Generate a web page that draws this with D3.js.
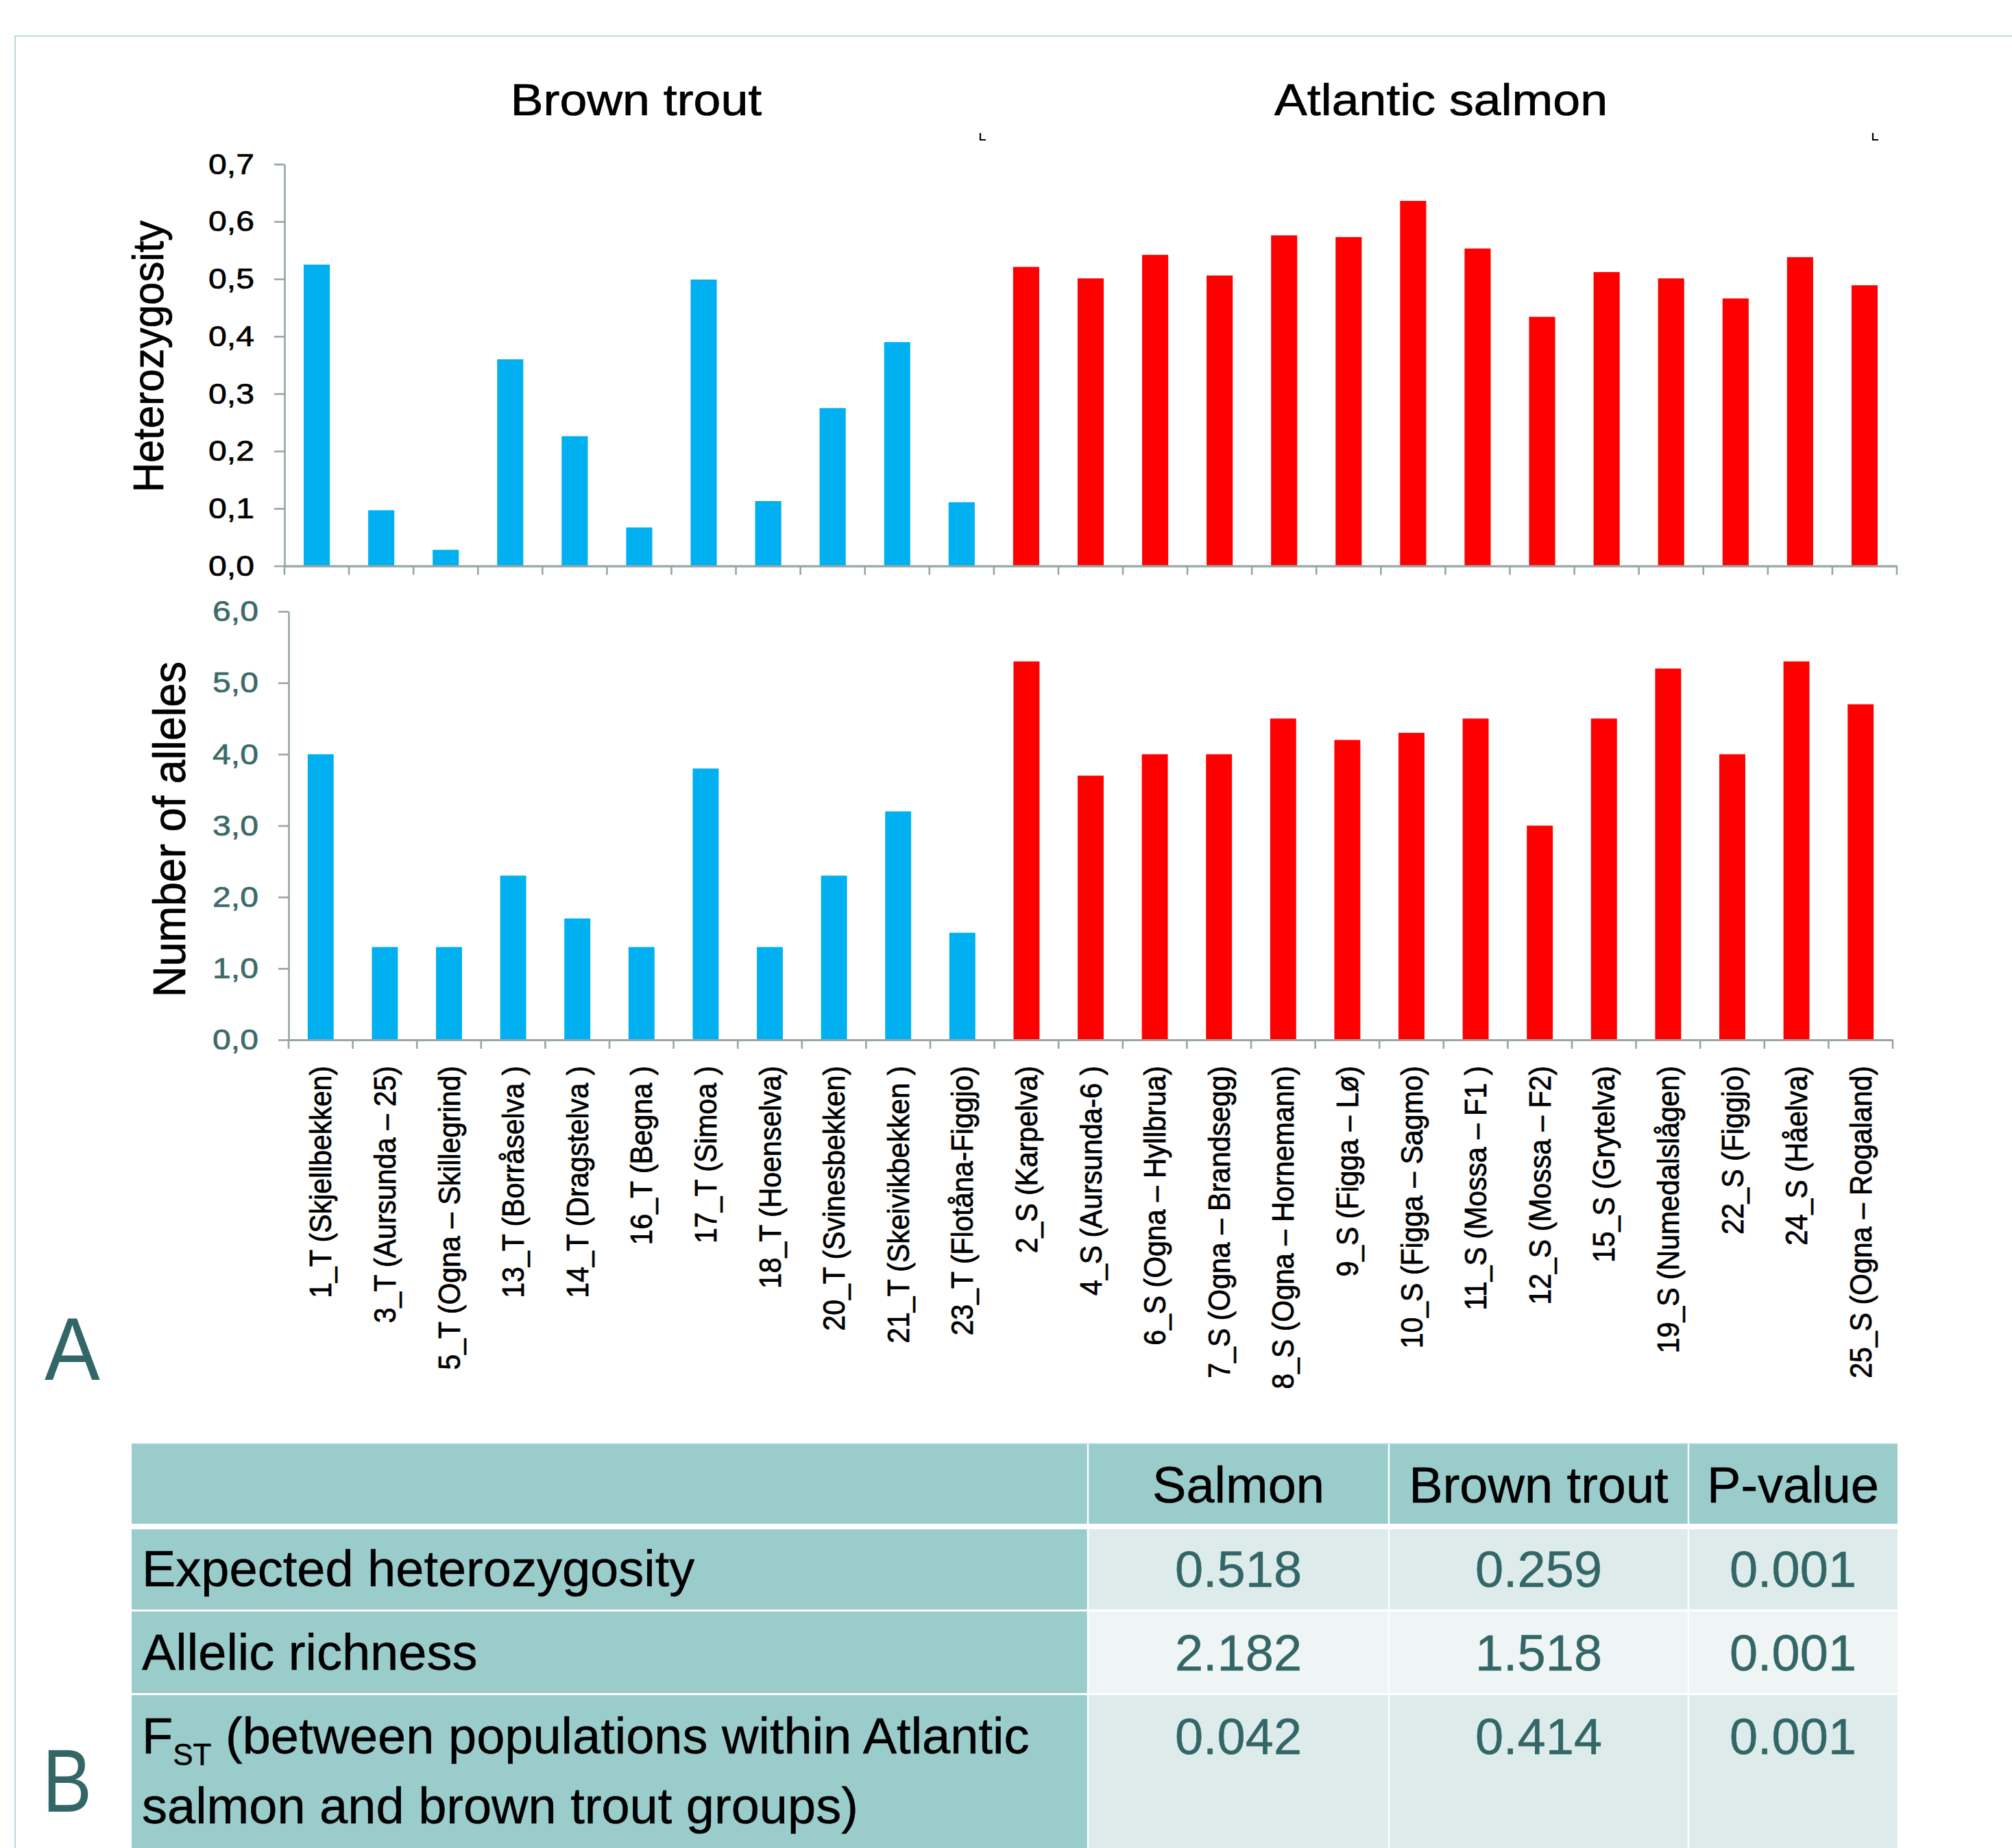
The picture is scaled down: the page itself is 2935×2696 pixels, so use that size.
<!DOCTYPE html>
<html>
<head>
<meta charset="utf-8">
<script src="https://cdn.jsdelivr.net/npm/d3@7"></script>
<style>
  html, body { margin: 0; padding: 0; background: #ffffff; }
  svg { display: block; }
  text { font-family: "Liberation Sans", Arial, Helvetica, sans-serif; white-space: pre; }
  .heavy { stroke-width: 0.7px; paint-order: stroke; stroke-linejoin: round; }
  .mid { stroke-width: 0.5px; paint-order: stroke; stroke-linejoin: round; }
</style>
</head>
<body>
<svg id="chart" width="2935" height="2696"></svg>
<script>
// ---- Populations (x categories) ----
const populations = [
  "1_T (Skjellbekken)", "3_T (Aursunda – 25)", "5_T (Ogna – Skillegrind)", "13_T (Borråselva )",
  "14_T (Dragstelva )", "16_T (Begna )", "17_T (Simoa )", "18_T (Hoenselva)", "20_T (Svinesbekken)",
  "21_T (Skeivikbekken )", "23_T (Flotåna-Figgjo)",
  "2_S (Karpelva)", "4_S (Aursunda-6 )", "6_S (Ogna – Hyllbrua)", "7_S (Ogna – Brandsegg)",
  "8_S (Ogna – Hornemann)", "9_S (Figga – Lø)", "10_S (Figga – Sagmo)", "11_S (Mossa – F1 )",
  "12_S (Mossa – F2)", "15_S (Grytelva)", "19_S (Numedalslågen)", "22_S (Figgjo)", "24_S (Håelva)",
  "25_S (Ogna – Rogaland)"
];

// ---- Series values ----
const heterozygosity = [
  0.525, 0.097, 0.028, 0.360, 0.226, 0.067, 0.499, 0.113, 0.275, 0.390, 0.111,
  0.521, 0.501, 0.542, 0.506, 0.576, 0.573, 0.636, 0.553, 0.434, 0.512, 0.501, 0.466, 0.538, 0.489
];
const alleleCounts = [
  4.0, 1.3, 1.3, 2.3, 1.7, 1.3, 3.8, 1.3, 2.3, 3.2, 1.5,
  5.3, 3.7, 4.0, 4.0, 4.5, 4.2, 4.3, 4.5, 3.0, 4.5, 5.2, 4.0, 5.3, 4.7
];

// ---- Axis ticks ----
const heteroTicks = [0, 0.1, 0.2, 0.3, 0.4, 0.5, 0.6, 0.7];
const alleleTicks = [0, 1, 2, 3, 4, 5, 6];

// ---- Group titles ----
const groupTitles = ["Brown trout", "Atlantic salmon"];

// ---- Summary table ----
const tableHeader = ["", "Salmon", "Brown trout", "P-value"];
const rowLabels = ["Expected heterozygosity", "Allelic richness", "FST"];
const salmonValues = ["0.518", "2.182", "0.042"];
const troutValues = ["0.259", "1.518", "0.414"];
const pValues = ["0.001", "0.001", "0.001"];

// ---------------------------------------------------------------
const svg = d3.select("#chart");
const TEAL = "#336666";
const AXIS = "#97a5a5";
const BLUE = "#00b0f0";
const RED = "#ff0000";
const SX = 1.12;   // horizontal widening of the chart lettering

const commaFmt = d3.formatLocale({ decimal: ",", thousands: " ", grouping: [3], currency: ["", ""] }).format(".1f");
const speciesColor = name => /_T\b/.test(name) ? BLUE : RED;

svg.append("rect").attr("width", 2935).attr("height", 2696).attr("fill", "#ffffff");

// slide frame
svg.append("path")
  .attr("d", "M22,2696V52.5H2935")
  .attr("fill", "none").attr("stroke", "#b6dcdc").attr("stroke-width", 2);

function panel(opts) {
  const { values, ticks, xRange, yRange, yMax, tickColor } = opts;
  const x = d3.scaleBand().domain(populations).range(xRange).paddingInner(0.595).paddingOuter(0.2975);
  const y = d3.scaleLinear().domain([0, yMax]).range(yRange);
  const g = svg.append("g");

  // bars
  g.selectAll("rect.bar").data(populations).join("rect")
    .attr("class", "bar")
    .attr("x", d => x(d))
    .attr("width", x.bandwidth())
    .attr("y", (d, i) => y(values[i]))
    .attr("height", (d, i) => y(0) - y(values[i]))
    .attr("fill", d => speciesColor(d));

  // y axis
  const pad = 29, tsize = 15;
  const ya = g.append("g").attr("transform", `translate(${xRange[0]},0)`)
    .call(d3.axisLeft(y).tickValues(ticks).tickFormat(commaFmt).tickSize(tsize).tickPadding(pad).tickSizeOuter(0));
  ya.select(".domain").attr("stroke", AXIS).attr("stroke-width", 2.6);
  ya.selectAll(".tick line").attr("stroke", AXIS).attr("stroke-width", 2.6);
  ya.selectAll(".tick text")
    .attr("class", "heavy")
    .attr("font-size", 43)
    .attr("font-family", "Liberation Sans, Arial, sans-serif")
    .attr("fill", tickColor)
    .attr("stroke", tickColor)
    .attr("x", -(tsize + pad) / SX)
    .attr("transform", `scale(${SX},1)`);

  // x axis line and category boundary ticks
  const xa = g.append("g").attr("transform", `translate(0,${y(0)})`)
    .call(d3.axisBottom(x).tickValues([]).tickSizeOuter(0));
  xa.select(".domain").attr("stroke", AXIS).attr("stroke-width", 3.2);
  xa.selectAll("line.bound").data(d3.range(populations.length + 1)).join("line")
    .attr("class", "bound")
    .attr("x1", i => x.range()[0] + i * x.step())
    .attr("x2", i => x.range()[0] + i * x.step())
    .attr("y1", 0).attr("y2", 13)
    .attr("stroke", AXIS).attr("stroke-width", 2.6);

  return { x, y, g };
}

const heteroPanel = panel({
  values: heterozygosity, ticks: heteroTicks,
  xRange: [415, 2767], yRange: [825.6, 239.5], yMax: 0.7, tickColor: "#000000"
});
const allelePanel = panel({
  values: alleleCounts, ticks: alleleTicks,
  xRange: [421, 2761], yRange: [1517, 892], yMax: 6, tickColor: "#3b6a6a"
});

// y-axis titles
svg.append("text").attr("class", "heavy").attr("stroke", "#000")
  .attr("transform", "translate(238,520) rotate(-90) scale(1,1.05)")
  .attr("text-anchor", "middle").attr("font-size", 60).attr("fill", "#000")
  .text("Heterozygosity");
svg.append("text").attr("class", "heavy").attr("stroke", "#000")
  .attr("transform", "translate(270,1210) rotate(-90) scale(1,1.05)")
  .attr("text-anchor", "middle").attr("font-size", 63).attr("fill", "#000")
  .text("Number of alleles");

// group titles
const titleX = [928, 2102];
groupTitles.forEach((t, i) => {
  svg.append("text").attr("class", "heavy").attr("stroke", "#000")
    .attr("transform", `translate(${titleX[i]},168) scale(${SX},1)`)
    .attr("text-anchor", "middle").attr("font-size", 64).attr("fill", "#000")
    .text(t);
});

// small corner marks above the plot
[1430, 2732].forEach(mx => {
  svg.append("path")
    .attr("d", `M${mx},194V204H${mx + 8}`)
    .attr("fill", "none").attr("stroke", "#000").attr("stroke-width", 2.2);
});

// category labels
const bx = allelePanel.x;
svg.append("g").selectAll("text").data(populations).join("text")
  .attr("class", "heavy").attr("stroke", "#000")
  .attr("transform", d => `translate(${bx(d) + bx.bandwidth() / 2},1555) rotate(-90) scale(1,1.08)`)
  .attr("text-anchor", "end")
  .attr("dy", "0.35em")
  .attr("font-size", 41)
  .attr("fill", "#000")
  .text(d => d);

// panel letters
svg.append("text")
  .attr("transform", "translate(65,2013) scale(0.94,1)")
  .attr("font-size", 129).attr("fill", TEAL).text("A");
svg.append("text")
  .attr("transform", "translate(62,2643) scale(0.83,1)")
  .attr("font-size", 130).attr("fill", TEAL).text("B");

// ---------------- summary table ----------------
const colEdges = [192, 1587, 2026, 2463, 2768];
const rowBands = [[2106, 2223], [2231, 2348], [2351, 2470], [2473, 2720]];
const dataFill = ["#ddebeb", "#eef5f4", "#ddebeb"];
const HEAD = "#9bcccc";
const tbl = svg.append("g");

rowBands.forEach((rb, r) => {
  for (let c = 0; c < 4; c++) {
    const x0 = colEdges[c] + (c === 0 ? 0 : 1.2);
    const x1 = colEdges[c + 1] - (c === 3 ? 0 : 1.2);
    const fill = (r === 0 || c === 0) ? HEAD : dataFill[r - 1];
    tbl.append("rect").attr("x", x0).attr("y", rb[0]).attr("width", x1 - x0).attr("height", rb[1] - rb[0]).attr("fill", fill);
  }
});
tbl.append("line").attr("x1", colEdges[0]).attr("x2", colEdges[4]).attr("y1", 2106).attr("y2", 2106)
  .attr("stroke", "#c9e4e4").attr("stroke-width", 1.5);

const colCenter = c => (colEdges[c] + colEdges[c + 1]) / 2;
tableHeader.forEach((h, c) => {
  if (!h) return;
  tbl.append("text").attr("class", "mid").attr("stroke", "#000")
    .attr("x", colCenter(c)).attr("y", 2192)
    .attr("text-anchor", "middle").attr("font-size", 74).attr("fill", "#000").text(h);
});

const rowBase = [2314, 2436, 2558];
tbl.append("text").attr("class", "mid").attr("stroke", "#000")
  .attr("x", 207).attr("y", rowBase[0]).attr("font-size", 74).attr("fill", "#000").text(rowLabels[0]);
tbl.append("text").attr("class", "mid").attr("stroke", "#000")
  .attr("x", 207).attr("y", rowBase[1]).attr("font-size", 74).attr("fill", "#000").text(rowLabels[1]);
const fst = tbl.append("text").attr("class", "mid").attr("stroke", "#000")
  .attr("x", 207).attr("y", rowBase[2]).attr("font-size", 74).attr("fill", "#000");
fst.append("tspan").text("F");
fst.append("tspan").attr("font-size", 44).attr("dy", 17).text(rowLabels[2].slice(1));
fst.append("tspan").attr("dy", -17).text(" (between populations within Atlantic");
tbl.append("text").attr("class", "mid").attr("stroke", "#000")
  .attr("x", 207).attr("y", 2660).attr("font-size", 74).attr("fill", "#000")
  .text("salmon and brown trout groups)");

[salmonValues, troutValues, pValues].forEach((col, ci) => {
  col.forEach((v, r) => {
    tbl.append("text").attr("class", "mid").attr("stroke", TEAL)
      .attr("x", colCenter(ci + 1)).attr("y", rowBase[r] + 1)
      .attr("text-anchor", "middle").attr("font-size", 74).attr("fill", TEAL).text(v);
  });
});
</script>
</body>
</html>
